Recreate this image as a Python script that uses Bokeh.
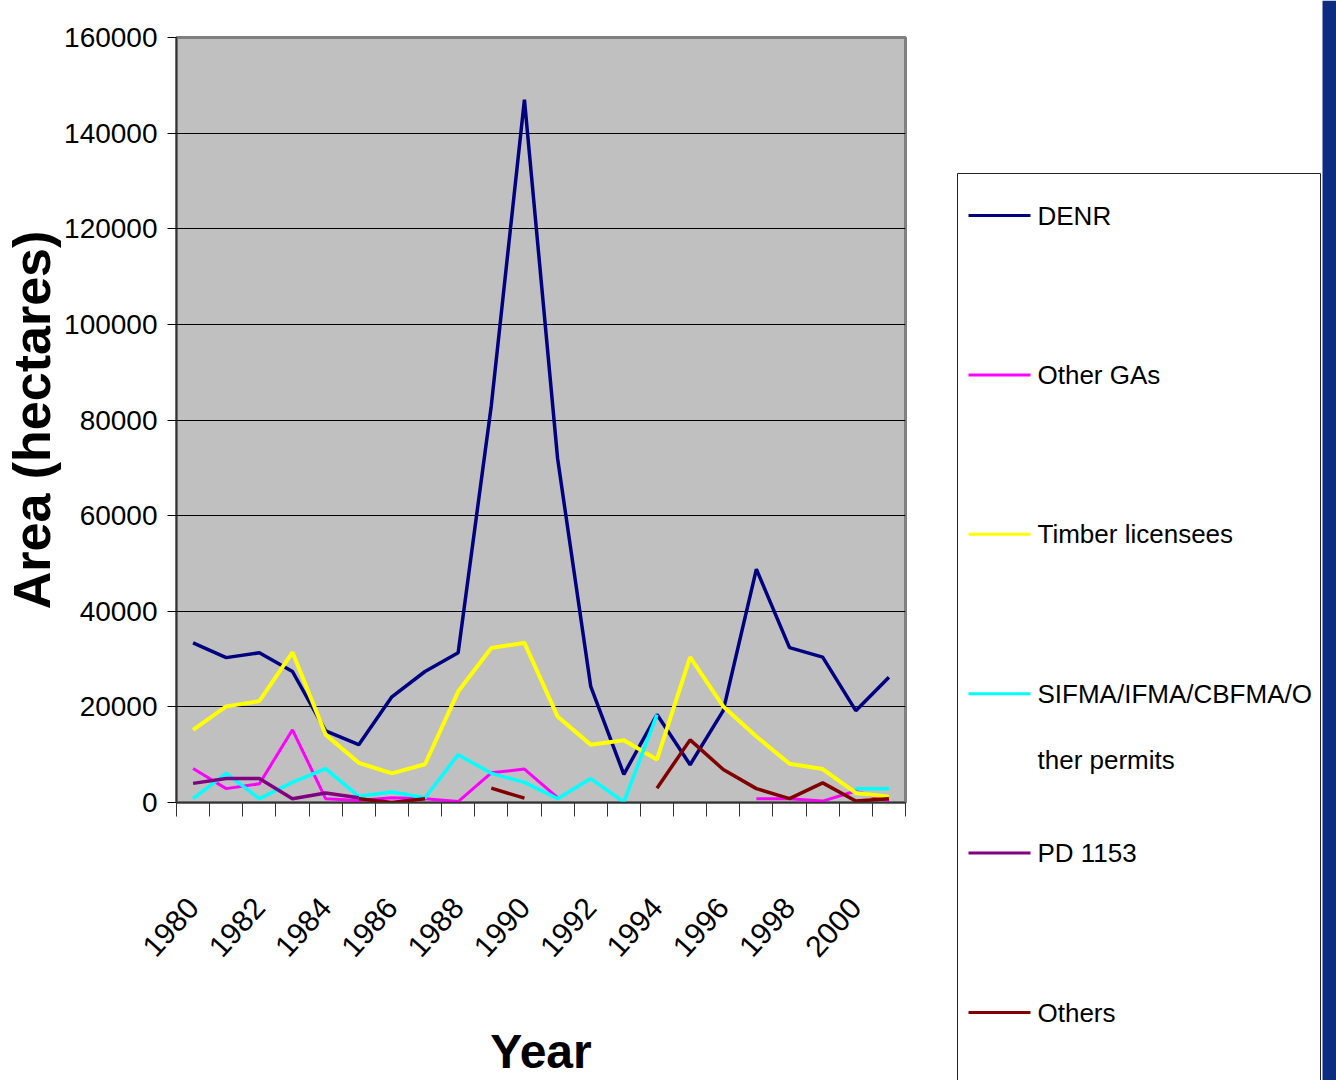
from bokeh.plotting import figure
from bokeh.models import FixedTicker, BasicTickFormatter
from bokeh.layouts import row
from bokeh.core.properties import value
from bokeh.embed import file_html
from bokeh.resources import INLINE

nan = float("nan")

years = list(range(1980, 2002))
year_labels = [str(y) for y in range(1980, 2001, 2)]

denr = [33400, 30300, 31300, 27400, 15000, 12100, 22100, 27400, 31300, 83000, 147000,
        72000, 24300, 5900, 18400, 7900, 19200, 48800, 32400, 30400, 19200, 26200]
other_gas = [7100, 2900, 3900, 15200, 800, 400, 1000, 800, 200, 6200, 7000,
             1000, nan, nan, nan, nan, nan, 800, 800, 300, 2400, 300]
timber = [15200, 20100, 21200, 31400, 14200, 8300, 6100, 8000, 23200, 32300, 33400,
          18000, 12100, 13000, 9000, 30400, 20100, 13800, 8100, 7000, 2000, 1200]
sifma = [800, 6100, 800, 4200, 7100, 1300, 2200, 1000, 10000, 6100, 4200,
         800, 5000, 100, 18400, nan, nan, nan, nan, nan, 2900, 2900]
pd1153 = [4000, 5000, 5000, 800, 2000, 1000, nan, nan, nan, nan, nan,
          nan, nan, nan, nan, nan, nan, nan, nan, nan, nan, nan]
others = [nan, nan, nan, nan, nan, 800, 0, 800, nan, 3000, 900,
          nan, nan, nan, 3000, 13100, 6900, 2900, 800, 4100, 300, 800]

series_names = ["DENR", "Other GAs", "Timber licensees",
                "SIFMA/IFMA/CBFMA/O\nther permits", "PD 1153", "Others"]
series_values = [denr, other_gas, timber, sifma, pd1153, others]
series_colors = ["#000080", "#FF00FF", "#FFFF00", "#00FFFF", "#800080", "#800000"]
series_widths = [3.5, 3, 4, 3.5, 3.5, 3.5]

FONT = "Liberation Sans"

H = 1080
W1 = 940
W2 = 396
p = figure(width=W1, height=H, output_backend="svg", toolbar_location=None,
           x_range=(1979.5, 2001.5), y_range=(0, 160000),
           min_border_left=175, min_border_right=W1 - 905, min_border_top=37,
           min_border_bottom=H - 803)
p.background_fill_color = "#C0C0C0"
p.border_fill_color = "white"
p.outline_line_color = "#808080"
p.outline_line_width = 3
try:
    p.frame_align = False
except Exception:
    pass

for vals, col, lw in zip(series_values, series_colors, series_widths):
    p.line(x=years, y=vals, line_color=col, line_width=lw)

# y axis
p.yaxis.ticker = FixedTicker(ticks=list(range(0, 160001, 20000)))
p.yaxis.formatter = BasicTickFormatter(use_scientific=False)
p.yaxis.major_tick_out = 9
p.yaxis.major_tick_in = 0
p.yaxis.minor_tick_out = 0
p.yaxis.major_label_standoff = 10
p.yaxis.major_label_text_font = FONT
p.yaxis.major_label_text_font_size = "28px"
p.yaxis.major_label_text_color = "black"
p.yaxis.axis_line_color = "#333333"
p.yaxis.axis_line_width = 1.5
p.yaxis.axis_label = "Area (hectares)"
p.yaxis.axis_label_text_font = FONT
p.yaxis.axis_label_text_font_style = "bold"
p.yaxis.axis_label_text_font_size = "52px"
p.yaxis.axis_label_text_color = "black"
p.yaxis.axis_label_standoff = 0

# x axis
p.xaxis.ticker = FixedTicker(ticks=list(range(1980, 2001, 2)),
                             minor_ticks=[y - 0.5 for y in years] + [years[-1] + 0.5])
p.xaxis.major_label_overrides = {int(t): t for t in year_labels}
p.xaxis.major_tick_out = 0
p.xaxis.major_tick_in = 0
p.xaxis.minor_tick_out = 14
p.xaxis.minor_tick_in = 0
p.xaxis.minor_tick_line_color = "#333333"
p.xaxis.axis_line_color = "#333333"
p.xaxis.axis_line_width = 1.5
p.xaxis.major_label_orientation = 0.84
p.xaxis.major_label_standoff = 86
p.xaxis.major_label_text_font = FONT
p.xaxis.major_label_text_font_size = "30px"
p.xaxis.major_label_text_color = "black"
p.xaxis.axis_label = "Year"
p.xaxis.axis_label_text_font = FONT
p.xaxis.axis_label_text_font_style = "bold"
p.xaxis.axis_label_text_font_size = "48px"
p.xaxis.axis_label_text_color = "black"
p.xaxis.axis_label_standoff = 56

p.xgrid.grid_line_color = None
p.ygrid.grid_line_color = "black"
p.ygrid.grid_line_width = 1
p.ygrid.ticker = FixedTicker(ticks=list(range(20000, 160000, 20000)))

# legend panel
q = figure(width=W2, height=H, output_backend="svg", toolbar_location=None,
           x_range=(0, W2), y_range=(H, 0), min_border=0,
           x_axis_location=None, y_axis_location=None)
q.grid.visible = False
q.outline_line_color = None
q.background_fill_color = "white"
q.border_fill_color = "white"
try:
    q.frame_align = False
except Exception:
    pass

q.quad(left=[17], right=[380], top=[173], bottom=[H + 20],
       fill_color="white", line_color="#222222", line_width=1)
q.quad(left=[382], right=[W2], top=[0], bottom=[H],
       fill_color="#0B2C80", line_color=None)

ys = [215 + 159.4 * i for i in range(len(series_names))]
q.segment(x0=[28] * 6, x1=[90] * 6, y0=ys, y1=ys, line_color=series_colors, line_width=3)
first_lines = [n.split("\n")[0] for n in series_names]
q.text(x=[97] * 6, y=ys, text=first_lines, text_baseline="middle",
       text_font=value(FONT), text_font_size="26px", text_color="black")
extra = [(n.split("\n")[1], y) for n, y in zip(series_names, ys) if "\n" in n]
q.text(x=[97] * len(extra), y=[y + 66 for _, y in extra], text=[t for t, _ in extra],
       text_baseline="middle", text_font=value(FONT), text_font_size="26px",
       text_color="black")

layout = row(p, q)
open("out.html", "w").write(file_html(layout, INLINE))
